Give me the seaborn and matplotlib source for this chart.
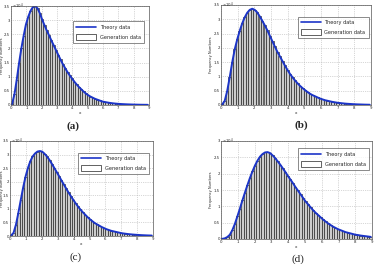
import numpy as np
import pandas as pd
import matplotlib
matplotlib.use("Agg")
import matplotlib.pyplot as plt
import seaborn as sns
from matplotlib.lines import Line2D
from matplotlib.patches import Patch

# bar centres (bin width 0.15 on 0..9)
n_bins = 60
bin_edges = np.linspace(0, 9, n_bins + 1)
x_centers = (bin_edges[:-1] + bin_edges[1:]) / 2

# heights in units of 10^4
vals_a = [0.05, 0.38, 0.9, 1.48, 2.0, 2.45, 2.85, 3.12, 3.33, 3.46,
          3.5, 3.42, 3.25, 3.03, 2.83, 2.64, 2.47, 2.29, 2.12, 1.95,
          1.78, 1.61, 1.45, 1.31, 1.17, 1.05, 0.94, 0.83, 0.73, 0.64,
          0.56, 0.48, 0.41, 0.35, 0.30, 0.26, 0.22, 0.19, 0.16, 0.13,
          0.11, 0.095, 0.08, 0.068, 0.058, 0.049, 0.042, 0.036, 0.031, 0.027,
          0.023, 0.02, 0.017, 0.015, 0.013, 0.011, 0.009, 0.008, 0.007, 0.006]
vals_b = [0.02, 0.15, 0.5, 0.98, 1.5, 1.95, 2.3, 2.6, 2.86, 3.07,
          3.23, 3.33, 3.37, 3.33, 3.24, 3.1, 2.95, 2.79, 2.62, 2.43,
          2.24, 2.05, 1.87, 1.71, 1.55, 1.39, 1.24, 1.1, 0.98, 0.87,
          0.77, 0.68, 0.6, 0.53, 0.46, 0.4, 0.35, 0.31, 0.27, 0.23,
          0.2, 0.17, 0.15, 0.13, 0.11, 0.095, 0.08, 0.07, 0.06, 0.05,
          0.043, 0.037, 0.031, 0.026, 0.022, 0.019, 0.016, 0.013, 0.011, 0.009]
vals_c = [0.02, 0.12, 0.42, 0.85, 1.32, 1.78, 2.18, 2.5, 2.75, 2.93,
          3.04, 3.11, 3.13, 3.11, 3.03, 2.93, 2.81, 2.67, 2.52, 2.37,
          2.22, 2.06, 1.91, 1.76, 1.61, 1.47, 1.34, 1.21, 1.09, 0.98,
          0.88, 0.79, 0.7, 0.62, 0.55, 0.48, 0.43, 0.38, 0.33, 0.29,
          0.25, 0.22, 0.19, 0.17, 0.15, 0.13, 0.11, 0.095, 0.083, 0.072,
          0.062, 0.054, 0.047, 0.041, 0.035, 0.03, 0.026, 0.022, 0.019, 0.016]
vals_d = [0.005, 0.02, 0.06, 0.13, 0.27, 0.46, 0.69, 0.93, 1.18, 1.42,
          1.65, 1.87, 2.07, 2.25, 2.4, 2.52, 2.6, 2.65, 2.66, 2.63,
          2.56, 2.48, 2.38, 2.28, 2.17, 2.06, 1.94, 1.83, 1.72, 1.6,
          1.49, 1.38, 1.27, 1.16, 1.07, 0.98, 0.89, 0.81, 0.74, 0.67,
          0.6, 0.54, 0.48, 0.43, 0.38, 0.34, 0.3, 0.27, 0.24, 0.21,
          0.19, 0.17, 0.15, 0.13, 0.12, 0.105, 0.095, 0.085, 0.075, 0.065]

panel_labels = ["(a)", "(b)", "(c)", "(d)"]
label_bold = [True, True, False, False]
y_max = [3.5, 3.5, 3.5, 3.0]
x_ticks = list(range(0, 10))

sns.set_style("white")
plt.rcParams['font.family'] = ['DejaVu Sans']

W, H = 377, 264
fig = plt.figure(figsize=(W / 100, H / 100), dpi=100)

# pixel boxes: left, right, top, bottom
boxes = [(11, 149, 6, 105), (221, 371, 5, 105), (10, 153, 141, 236), (221, 372, 141, 239)]
legend_anchor = [(0.98, 0.87), (1.0, 0.91), (0.99, 0.905), (1.0, 0.95)]
label_pos = [(73, 126), (301, 125), (76, 257), (298, 259)]
ylabel_px = [2.0, 211, 1.7, 211]

blue = '#1c35c8'
all_vals = [vals_a, vals_b, vals_c, vals_d]

for i, vals in enumerate(all_vals):
    l, r, t, b = boxes[i]
    ax = fig.add_axes([l / W, (H - b) / H, (r - l) / W, (b - t) / H])
    df = pd.DataFrame({"x": x_centers, "w": np.array(vals)})
    sns.histplot(data=df, x="x", weights="w", bins=n_bins, binrange=(0, 9), ax=ax,
                 color='#cccccc', edgecolor='#1e1e1e', linewidth=0.45, alpha=1.0)
    line_df = pd.DataFrame({"x": np.concatenate([[0.0], x_centers]),
                            "y": np.concatenate([[0.0], np.array(vals)])})
    sns.lineplot(data=line_df, x="x", y="y", ax=ax, color=blue, linewidth=1.4)
    ax.set_xlim(0, 9)
    ax.set_ylim(0, y_max[i])
    ax.set_xticks(x_ticks)
    yt = np.arange(0, y_max[i] + 0.01, 0.5)
    ax.set_yticks(yt)
    ax.set_yticklabels([f"{v:g}" for v in yt])
    ax.text(0.005, 1.0, r"$\times10^4$", transform=ax.transAxes, fontsize=2.8,
            ha='left', va='center', color='#333333')
    ax.tick_params(labelsize=2.8, length=1.2, width=0.4, pad=0.6, direction='in')
    ax.grid(True, linestyle=':', color='#b0b0b0', linewidth=0.5)
    ax.set_axisbelow(True)
    for s in ax.spines.values():
        s.set_color('#555555')
        s.set_linewidth(0.5)
    ax.set_xlabel("x", fontsize=3, labelpad=1)
    ax.set_ylabel("Frequency Numbers", fontsize=2.6)
    ax.yaxis.set_label_coords((ylabel_px[i] - l) / (r - l), 0.5)
    ax.yaxis.label.set_va('center')
    handles = [Line2D([0], [0], color=blue, linewidth=1.2),
               Patch(facecolor='white', edgecolor='#222222', linewidth=0.5)]
    leg = ax.legend(handles, ["Theory data", "Generation data"], loc='upper right',
                    bbox_to_anchor=legend_anchor[i], fontsize=3.6, frameon=True,
                    fancybox=False, handlelength=4, handleheight=1.6,
                    borderpad=0.6, labelspacing=0.6, handletextpad=0.8)
    leg.get_frame().set_edgecolor('#333333')
    leg.get_frame().set_linewidth(0.5)
    px, py = label_pos[i]
    fig.text(px / W, 1 - py / H, panel_labels[i], ha='center', va='center',
             fontsize=8, family='Liberation Serif',
             fontweight='bold' if label_bold[i] else 'normal')

fig.savefig("out.png", dpi=100)
